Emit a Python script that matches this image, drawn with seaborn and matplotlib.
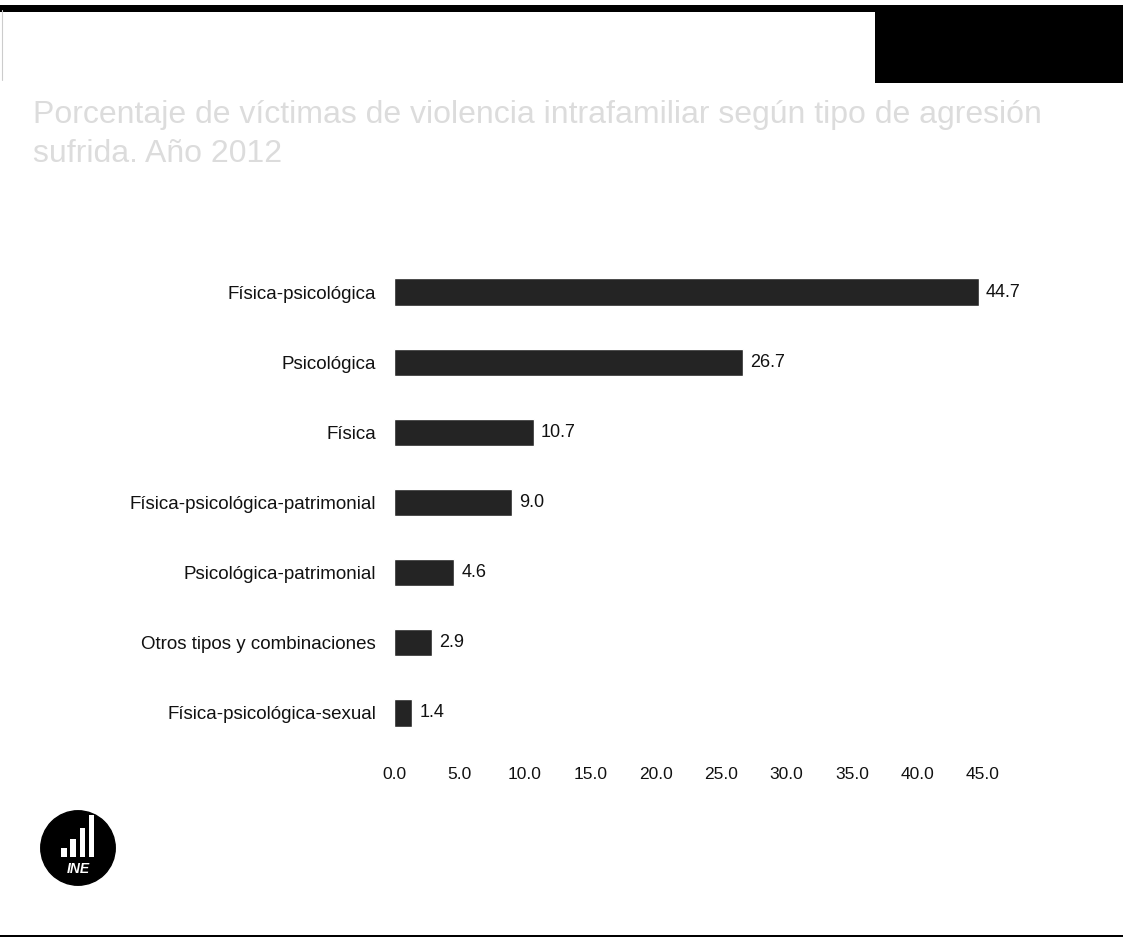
import matplotlib
matplotlib.use("Agg")
import matplotlib.pyplot as plt
import matplotlib.patches as mpatches
import seaborn as sns
import pandas as pd
import numpy as np

# Data: share of victims by type of aggression
categories = [
    "Física-psicológica",
    "Psicológica",
    "Física",
    "Física-psicológica-patrimonial",
    "Psicológica-patrimonial",
    "Otros tipos y combinaciones",
    "Física-psicológica-sexual",
]
values = [44.7, 26.7, 10.7, 9.0, 4.6, 2.9, 1.4]
x_ticks = [0, 5, 10, 15, 20, 25, 30, 35, 40, 45]
title_text = ("Porcentaje de víctimas de violencia intrafamiliar según tipo de agresión\n"
              "sufrida. Año 2012")

sns.set_theme(style="white")
plt.rcParams["font.family"] = ["Liberation Sans", "DejaVu Sans"]

W, H = 1123, 949
fig = plt.figure(figsize=(W / 100, H / 100), dpi=100)
fig.patch.set_facecolor("white")

# Main bar axes
ax = fig.add_axes([394 / W, 1 - 748 / H, 589 / W, 491 / H])
df = pd.DataFrame({"tipo": categories, "pct": values})
sns.barplot(data=df, x="pct", y="tipo", orient="h", color="#242424",
            saturation=1, width=0.39, ax=ax)

ax.set_xlim(0, 45)
ax.set_xticks(x_ticks)
ax.set_xticklabels([f"{t:.1f}" for t in x_ticks])
ax.set_xlabel("")
ax.set_ylabel("")
for s in ax.spines.values():
    s.set_visible(False)
ax.tick_params(axis="both", length=0, colors="#111111")
ax.tick_params(axis="x", pad=14, labelsize=12.5)
ax.tick_params(axis="y", pad=13, labelsize=13.5)

for bar, v in zip(ax.patches, values):
    ax.annotate(f"{v:.1f}", (bar.get_width(), bar.get_y() + bar.get_height() / 2),
                xytext=(5, 0), textcoords="offset points", va="center", ha="left",
                fontsize=13, color="#111111")

# Title (faint grey)
fig.text(33 / W, 1 - 100 / H, title_text, ha="left", va="top", fontsize=23,
         color="#dcdcdc", linespacing=1.4)

# Header band and rules
fig.add_artist(mpatches.Rectangle((0, 1 - 12 / H), 1, 7 / H, transform=fig.transFigure,
                                  color="black", lw=0))
fig.add_artist(mpatches.Rectangle((875 / W, 1 - 83 / H), 248 / W, 75 / H,
                                  transform=fig.transFigure, color="black", lw=0))
fig.add_artist(mpatches.Rectangle((0, 1 - 937 / H), 1, 2 / H, transform=fig.transFigure,
                                  color="black", lw=0))
fig.add_artist(plt.Line2D([2 / W, 2 / W], [1 - 80 / H, 1 - 10 / H], transform=fig.transFigure,
                          color="#cccccc", lw=0.8))

# Logo
lax = fig.add_axes([40 / W, 1 - 886 / H, 76 / W, 76 / H])
lax.set_xlim(0, 1)
lax.set_ylim(0, 1)
lax.axis("off")
lax.add_patch(mpatches.Ellipse((0.5, 0.5), 0.98, 0.98, color="black"))
for bx, bh in zip([0.28, 0.40, 0.52, 0.64], [0.12, 0.24, 0.38, 0.55]):
    lax.add_patch(mpatches.Rectangle((bx, 0.38), 0.07, bh, color="white", lw=0))
lax.text(0.5, 0.22, "INE", ha="center", va="center", color="white", fontsize=10,
         fontweight="bold", fontstyle="italic")

fig.savefig("out.png", dpi=100, facecolor="white")
